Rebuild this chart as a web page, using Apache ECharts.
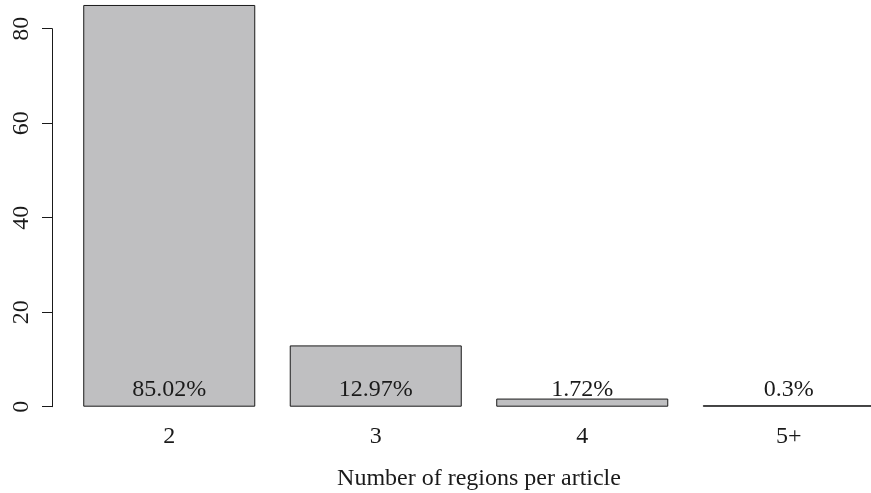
<!DOCTYPE html>
<html>
<head>
<meta charset="utf-8">
<script src="https://cdn.jsdelivr.net/npm/echarts@6/dist/echarts.min.js"></script>
<style>
  html, body { margin: 0; padding: 0; background: #fff; }
  #chart { width: 871px; height: 493px; }
</style>
</head>
<body>
<div id="chart"></div>
<script>
var categories = ['2', '3', '4', '5+'];
var shares = [85.02, 12.97, 1.72, 0.3];
var yTicks = [0, 20, 40, 60, 80];

var font = 'Liberation Serif';
var ink = '#1a1a1a';
var chart = echarts.init(document.getElementById('chart'));

var option = {
    animation: false,
    backgroundColor: '#ffffff',
    grid: {
        left: 66,
        top: 28.7,
        width: 826,
        bottom: 86.3,
        outerBoundsMode: 'none',
        containLabel: false
    },
    xAxis: {
        type: 'category',
        data: categories,
        name: 'Number of regions per article',
        nameLocation: 'middle',
        nameGap: 60,
        nameTextStyle: { fontFamily: font, fontSize: 24, color: ink },
        axisLine: { show: false },
        axisTick: { show: false },
        axisLabel: { fontFamily: font, fontSize: 24, color: ink, margin: 18 }
    },
    yAxis: {
        type: 'value',
        min: yTicks[0],
        max: yTicks[yTicks.length - 1],
        interval: 20,
        offset: 14,
        splitLine: { show: false },
        axisLine: { show: true, lineStyle: { color: ink, width: 1 } },
        axisTick: { show: true, length: 10, lineStyle: { color: ink } },
        axisLabel: {
            fontFamily: font, fontSize: 24, color: ink,
            rotate: 90, margin: 18
        }
    },
    series: [{
        type: 'bar',
        data: shares,
        clip: false,
        barCategoryGap: '16.7%',
        itemStyle: { color: '#bfbfc1', borderColor: ink, borderWidth: 1 },
        label: {
            show: true,
            position: 'insideBottom',
            distance: 5,
            fontFamily: font,
            fontSize: 24,
            color: ink,
            formatter: function (p) { return p.value + '%'; }
        }
    }]
};
chart.setOption(option);
</script>
</body>
</html>
